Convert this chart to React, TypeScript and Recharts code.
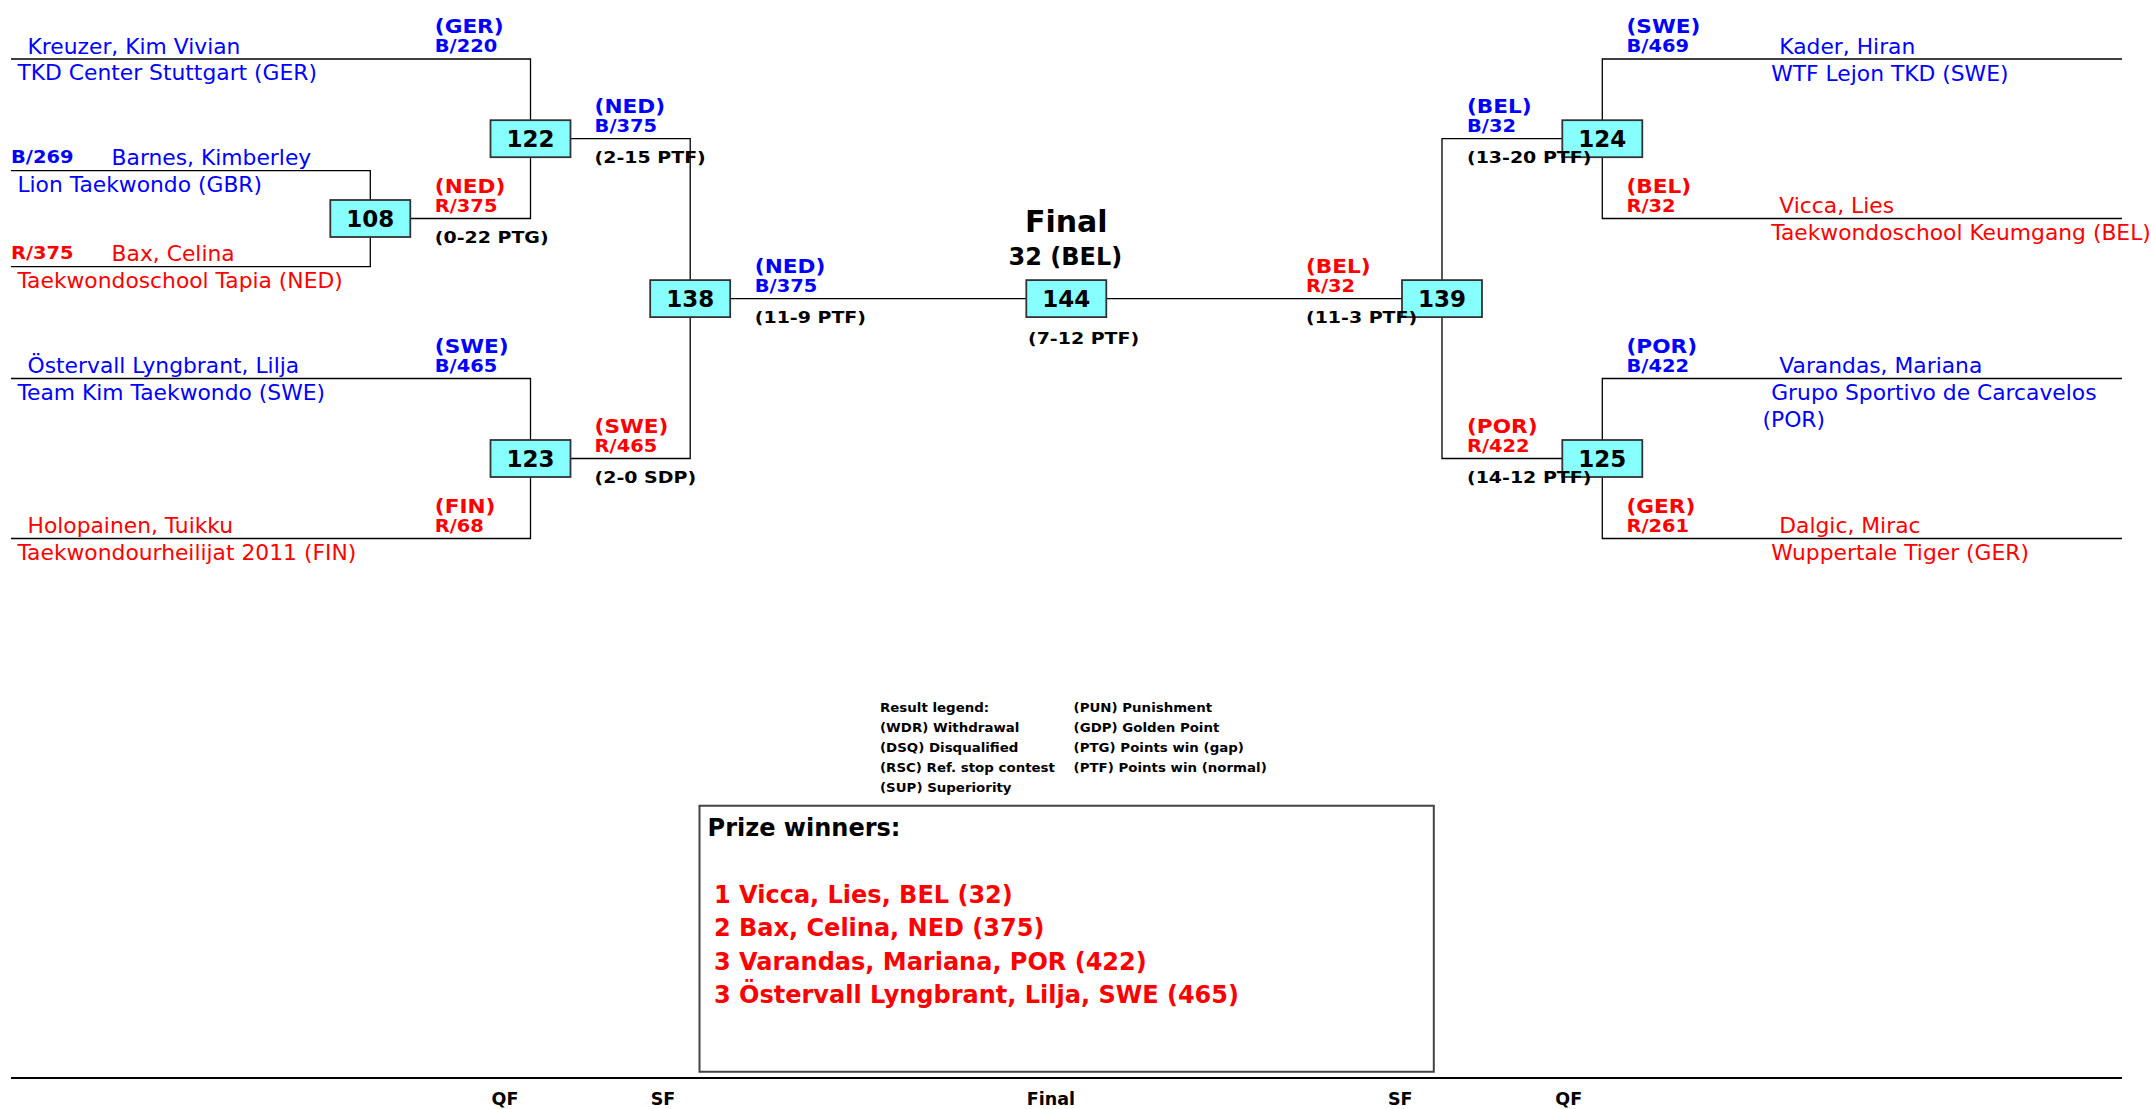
import React from 'react';
import { ComposedChart, Line, Scatter, XAxis, YAxis, ReferenceArea } from 'recharts';

// ---------------- data ----------------
const ROUND_LABELS = ['QF', 'SF', 'Final', 'SF', 'QF'];

const LEFT_FIGHTERS = [
  { row: 's0', name: 'Kreuzer, Kim Vivian', club: ['TKD Center Stuttgart (GER)'], corner: 'B', draw: '' },
  { row: 'p0', name: 'Barnes, Kimberley', club: ['Lion Taekwondo (GBR)'], corner: 'B', draw: 'B/269' },
  { row: 'p1', name: 'Bax, Celina', club: ['Taekwondoschool Tapia (NED)'], corner: 'R', draw: 'R/375' },
  { row: 's2', name: 'Östervall Lyngbrant, Lilja', club: ['Team Kim Taekwondo (SWE)'], corner: 'B', draw: '' },
  { row: 's3', name: 'Holopainen, Tuikku', club: ['Taekwondourheilijat 2011 (FIN)'], corner: 'R', draw: '' },
];

const RIGHT_FIGHTERS = [
  { row: 's0', name: 'Kader, Hiran', club: ['WTF Lejon TKD (SWE)'], corner: 'B' },
  { row: 's1', name: 'Vicca, Lies', club: ['Taekwondoschool Keumgang (BEL)'], corner: 'R' },
  { row: 's2', name: 'Varandas, Mariana', club: ['Grupo Sportivo de Carcavelos', '(POR)'], corner: 'B' },
  { row: 's3', name: 'Dalgic, Mirac', club: ['Wuppertale Tiger (GER)'], corner: 'R' },
];

const LINE_LABELS = [
  { pos: 'lq', row: 's0', country: '(GER)', code: 'B/220', score: '' },
  { pos: 'lq', row: 's1', country: '(NED)', code: 'R/375', score: '(0-22 PTG)' },
  { pos: 'ls', row: 'q0', country: '(NED)', code: 'B/375', score: '(2-15 PTF)' },
  { pos: 'lq', row: 's2', country: '(SWE)', code: 'B/465', score: '' },
  { pos: 'ls', row: 'q1', country: '(SWE)', code: 'R/465', score: '(2-0 SDP)' },
  { pos: 'lq', row: 's3', country: '(FIN)', code: 'R/68', score: '' },
  { pos: 'lf', row: 'f', country: '(NED)', code: 'B/375', score: '(11-9 PTF)' },
  { pos: 'rf', row: 'f', country: '(BEL)', code: 'R/32', score: '(11-3 PTF)' },
  { pos: 'rs', row: 'q0', country: '(BEL)', code: 'B/32', score: '(13-20 PTF)' },
  { pos: 'rs', row: 'q1', country: '(POR)', code: 'R/422', score: '(14-12 PTF)' },
  { pos: 'rq', row: 's0', country: '(SWE)', code: 'B/469', score: '' },
  { pos: 'rq', row: 's1', country: '(BEL)', code: 'R/32', score: '' },
  { pos: 'rq', row: 's2', country: '(POR)', code: 'B/422', score: '' },
  { pos: 'rq', row: 's3', country: '(GER)', code: 'R/261', score: '' },
];

const MATCHES = [
  { no: '108', col: 'L1', row: 's1' },
  { no: '122', col: 'L2', row: 'q0' },
  { no: '123', col: 'L2', row: 'q1' },
  { no: '138', col: 'L3', row: 'f' },
  { no: '144', col: 'C', row: 'f' },
  { no: '139', col: 'R3', row: 'f' },
  { no: '124', col: 'R2', row: 'q0' },
  { no: '125', col: 'R2', row: 'q1' },
];

const FINAL_TITLE = 'Final';
const FINAL_WINNER = '32 (BEL)';
const FINAL_SCORE = '(7-12 PTF)';

const LEGEND_COL1 = ['Result legend:', '(WDR) Withdrawal', '(DSQ) Disqualified', '(RSC) Ref. stop contest', '(SUP) Superiority'];
const LEGEND_COL2 = ['(PUN) Punishment', '(GDP) Golden Point', '(PTG) Points win (gap)', '(PTF) Points win (normal)'];

const PRIZE_TITLE = 'Prize winners:';
const PRIZE_WINNERS = [
  '1 Vicca, Lies, BEL (32)',
  '2 Bax, Celina, NED (375)',
  '3 Varandas, Mariana, POR (422)',
  '3 Östervall Lyngbrant, Lilja, SWE (465)',
];

// bracket connectors (column key, row key) polylines
const CONNECTORS = [
  [['L0', 'p0'], ['L1', 'p0'], ['L1', 'p1'], ['L0', 'p1']],
  [['L0', 's0'], ['L2', 's0'], ['L2', 's1'], ['L1', 's1']],
  [['L0', 's2'], ['L2', 's2'], ['L2', 's3'], ['L0', 's3']],
  [['L2', 'q0'], ['L3', 'q0'], ['L3', 'q1'], ['L2', 'q1']],
  [['L3', 'f'], ['R3', 'f']],
  [['R2', 'q0'], ['R3', 'q0'], ['R3', 'q1'], ['R2', 'q1']],
  [['R0', 's0'], ['R2', 's0'], ['R2', 's1'], ['R0', 's1']],
  [['R0', 's2'], ['R2', 's2'], ['R2', 's3'], ['R0', 's3']],
];

// ---------------- layout (axis units) ----------------
const W = 2151;
const H = 1109;
const X_MIN = 11;
const X_MAX = 2122;
const Y_MAX = 1078;

const COL: Record<string, number> = { L0: 11, L1: 370.3, L2: 530.5, L3: 690.2, C: 1066.3, R3: 1442, R2: 1602.3, R0: 2122 };
const ROW: Record<string, number> = {
  s0: 59, s1: 218.5, s2: 378.5, s3: 538.5, q0: 138.7, q1: 458.5, f: 298.6, p0: 170.7, p1: 266.7,
};
const LABEL_X: Record<string, number> = { lq: 434.8, ls: 594.6, lf: 754.8, rf: 1306, rs: 1467, rq: 1626.5 };

const BLUE = '#0000ff';
const RED = '#ff0000';
const FONT = '"DejaVu Sans", Verdana, sans-serif';

const STYLES: Record<string, { size: number; weight: number; sx: number; anchor: string }> = {
  name: { size: 20.4, weight: 400, sx: 1.07, anchor: 'start' },
  country: { size: 20, weight: 700, sx: 1.08, anchor: 'start' },
  code: { size: 18, weight: 700, sx: 1.08, anchor: 'start' },
  score: { size: 16.5, weight: 700, sx: 1.15, anchor: 'start' },
  box: { size: 23, weight: 700, sx: 1.0, anchor: 'middle' },
  title: { size: 30, weight: 700, sx: 1, anchor: 'middle' },
  subtitle: { size: 24, weight: 700, sx: 1, anchor: 'middle' },
  legend: { size: 12.5, weight: 700, sx: 1.07, anchor: 'start' },
  prizeTitle: { size: 24, weight: 700, sx: 1.0, anchor: 'start' },
  prize: { size: 24, weight: 700, sx: 1, anchor: 'start' },
};

const cornerColor = (c: string) => (c === 'B' ? BLUE : RED);

type TItem = { x: number; y: number; text: string; cls: string; color: string };
const TEXTS: TItem[] = [];
const add = (x: number, y: number, text: string, cls: string, color = '#000') => TEXTS.push({ x, y, text, cls, color });

LEFT_FIGHTERS.forEach((f) => {
  const L = ROW[f.row];
  const c = cornerColor(f.corner);
  if (f.draw) {
    add(COL.L0, L - 8, f.draw, 'code', c);
    add(COL.L0 + 100.6, L - 5.5, f.name, 'name', c);
  } else {
    add(COL.L0 + 16.5, L - 5.5, f.name, 'name', c);
  }
  f.club.forEach((cl, i) => add(COL.L0 + 6.4, L + 21 + i * 27, cl, 'name', c));
});

RIGHT_FIGHTERS.forEach((f) => {
  const L = ROW[f.row];
  const c = cornerColor(f.corner);
  add(1779.3, L - 5.5, f.name, 'name', c);
  f.club.forEach((cl, i) => add(i === 0 ? 1771.2 : 1762.5, L + 21.5 + i * 27, cl, 'name', c));
});

LINE_LABELS.forEach((l) => {
  const x = LABEL_X[l.pos];
  const L = ROW[l.row];
  const c = cornerColor(l.code[0]);
  add(x, L - 26, l.country, 'country', c);
  add(x, L - 7, l.code, 'code', c);
  if (l.score) add(x, L + 24, l.score, 'score');
});

MATCHES.forEach((m) => add(COL[m.col], ROW[m.row] + 8.5, m.no, 'box'));

add(COL.C, 232, FINAL_TITLE, 'title');
add(COL.C - 1, 265, FINAL_WINNER, 'subtitle');
add(COL.C - 38.3, ROW.f + 45.5, FINAL_SCORE, 'score');

LEGEND_COL1.forEach((t, i) => add(880, 711.7 + i * 20, t, 'legend'));
LEGEND_COL2.forEach((t, i) => add(1073.6, 711.7 + i * 20, t, 'legend'));

add(707.6, 836, PRIZE_TITLE, 'prizeTitle');
PRIZE_WINNERS.forEach((t, i) => add(714, 903 + i * 33.4, t, 'prize', RED));

const BOXES = MATCHES.map((m) => ({ x: COL[m.col], y: ROW[m.row], no: m.no }));
const BOX_W = 80;
const BOX_H = 37;

const ROUND_TICKS = [COL.L2, COL.L3, COL.C, COL.R3, COL.R2];
const ROUND_TICK_DX = [-39, -39.5, -39.5, -54, -47];

// ---------------- render helpers ----------------
const TextShape = (props: any) => {
  const { cx, cy, payload } = props;
  if (cx == null || cy == null || !payload) return <g />;
  const st = STYLES[payload.cls];
  return (
    <text
      transform={`translate(${cx} ${cy}) scale(${st.sx} 1)`}
      x={0}
      y={0}
      fontSize={st.size}
      fontWeight={st.weight}
      fontFamily={FONT}
      fill={payload.color}
      textAnchor={st.anchor as any}
    >
      {payload.text}
    </text>
  );
};

const BoxShape = (props: any) => {
  const { cx, cy } = props;
  if (cx == null || cy == null) return <g />;
  return (
    <rect x={cx - BOX_W / 2} y={cy - BOX_H / 2} width={BOX_W} height={BOX_H} fill="#88ffff" stroke="#333" strokeWidth={1.8} />
  );
};

const RoundTick = (props: any) => {
  const { x, y, index } = props;
  return (
    <text
      transform={`translate(${x + ROUND_TICK_DX[index]} ${y + 27})`}
      fontSize={17.5}
      fontWeight={700}
      fontFamily={FONT}
      fill="#000"
      textAnchor="start"
    >
      {ROUND_LABELS[index]}
    </text>
  );
};

export default function App() {
  return (
    <div style={{ position: 'absolute', left: 0, top: 0, width: W, height: H, background: '#fff' }}>
      <ComposedChart width={W} height={H} margin={{ top: 0, right: W - X_MAX, bottom: 0, left: X_MIN }}>
        <XAxis
          type="number"
          dataKey="x"
          domain={[X_MIN, X_MAX]}
          ticks={ROUND_TICKS}
          interval={0}
          tickLine={false}
          tickSize={0}
          tickMargin={0}
          height={H - Y_MAX}
          axisLine={{ stroke: '#000', strokeWidth: 2 }}
          tick={<RoundTick />}
        />
        <YAxis type="number" dataKey="y" domain={[0, Y_MAX]} reversed hide />
        <ReferenceArea
          x1={699.5}
          x2={1433.8}
          y1={805.7}
          y2={1071.7}
          fill="#fff"
          fillOpacity={1}
          stroke="#444"
          strokeWidth={2}
        />
        {CONNECTORS.map((seg, i) => (
          <Line
            key={`c${i}`}
            data={seg.map(([c, r]) => ({ x: COL[c], y: ROW[r] }))}
            dataKey="y"
            type="linear"
            stroke="#000"
            strokeWidth={1.3}
            dot={false}
            activeDot={false}
            isAnimationActive={false}
          />
        ))}
        <Scatter data={BOXES} shape={<BoxShape />} isAnimationActive={false} />
        <Scatter data={TEXTS} shape={<TextShape />} isAnimationActive={false} />
      </ComposedChart>
    </div>
  );
}
